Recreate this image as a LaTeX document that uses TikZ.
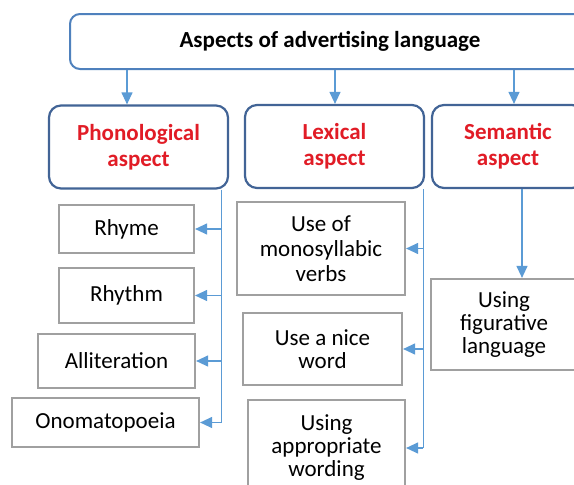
\documentclass[tikz,border=0pt]{standalone}
\usepackage{fontspec}
\setmainfont{Carlito}
\usetikzlibrary{arrows.meta,calc}

\definecolor{topblue}{RGB}{79,129,189}
\definecolor{aspblue}{RGB}{66,100,150}
\definecolor{aspred}{RGB}{225,28,38}
\definecolor{boxgrey}{RGB}{160,160,160}
\definecolor{linkblue}{RGB}{91,155,213}

\begin{document}
\begin{tikzpicture}[x=1pt, y=-1pt,
    main/.style={rectangle, rounded corners=10pt, draw=topblue, line width=2pt, fill=white, minimum width=520pt, minimum height=55pt, text centered, font=\fontsize{23}{24}\selectfont\bfseries},
    aspect/.style={rectangle, rounded corners=12pt, draw=aspblue, line width=2.2pt, fill=white, minimum height=83pt, align=center, text=aspred, font=\fontsize{23}{26}\selectfont\bfseries},
    item/.style={rectangle, draw=boxgrey, line width=2.2pt, fill=white, align=center, font=\fontsize{23}{23}\selectfont},
    link/.style={draw=linkblue, line width=1.2pt},
    arrow/.style={link, -{Triangle[length=12pt,width=11pt]}}
]

% page frame
\useasboundingbox[fill=white] (0,0) rectangle (574,485);

% TOP BOX
\node[main] (top) at (330,41.5) {Aspects of advertising language};

% The three aspects
\node[aspect, minimum width=179pt] (phon) at (138.5,147) {Phonological\\aspect};
\node[aspect, minimum width=179pt] (lex) at (334.5,146.5) {Lexical\\aspect};
\node[aspect, minimum width=152pt] (sem) at (508,146.5) {Semantic\\aspect};

% Arrows from the top box
\coordinate (phonin) at ($(phon.north)+(-11.5,0)$);
\coordinate (lexin) at ($(lex.north)+(0.5,0)$);
\coordinate (semin) at ($(sem.north)+(6,0)$);
\draw[arrow] (top.south -| phonin) -- (phonin);
\draw[arrow] (top.south -| lexin) -- (lexin);
\draw[arrow] (top.south -| semin) -- (semin);

% PHONOLOGICAL items
\node[item, minimum width=135pt, minimum height=48pt] (rhyme) at (126.5,229) {Rhyme};
\node[item, minimum width=135pt, minimum height=55pt] (rhythm) at (126.5,295.5) {Rhythm};
\node[item, minimum width=157pt, minimum height=54pt] (allit) at (116.5,361) {Alliteration};
\node[item, minimum width=187pt, minimum height=49pt] (onom) at (105.5,422.5) {Onomatopoeia};

% LEXICAL items
\node[item, minimum width=168pt, minimum height=93pt, font=\fontsize{23}{25}\selectfont] (mono) at (321,248.5) {Use of\\monosyllabic\\verbs};
\node[item, minimum width=159pt, minimum height=72pt] (nice) at (322.5,349) {Use a nice\\word};
\node[item, minimum width=157pt, minimum height=96pt] (appr) at (326.5,448) {Using\\appropriate\\wording};

% SEMANTIC item
\node[item, minimum width=146pt, minimum height=91pt] (fig) at (504,324.5) {Using\\figurative\\language};

% Bus down the right of the phonological aspect
\coordinate (phonbus) at ($(phon.south east)+(-8,0)$);
\draw[link] (phonbus) -- (phonbus |- onom.east);
\draw[arrow] (phonbus |- rhyme.east) -- (rhyme.east);
\draw[arrow] (phonbus |- rhythm.east) -- (rhythm.east);
\draw[arrow] (phonbus |- allit.east) -- (allit.east);
\draw[arrow] (phonbus |- onom.east) -- (onom.east);

% Bus down the right of the lexical aspect
\coordinate (lexbus) at ($(lex.south east)+(-2,0)$);
\draw[link] (lexbus) -- (lexbus |- appr.east);
\draw[arrow] (lexbus |- mono.east) -- (mono.east);
\draw[arrow] (lexbus |- nice.east) -- (nice.east);
\draw[arrow] (lexbus |- appr.east) -- (appr.east);

% Semantic aspect straight down
\coordinate (semout) at ($(sem.south)+(14,0)$);
\draw[arrow] (semout) -- (semout |- fig.north);

\end{tikzpicture}
\end{document}
